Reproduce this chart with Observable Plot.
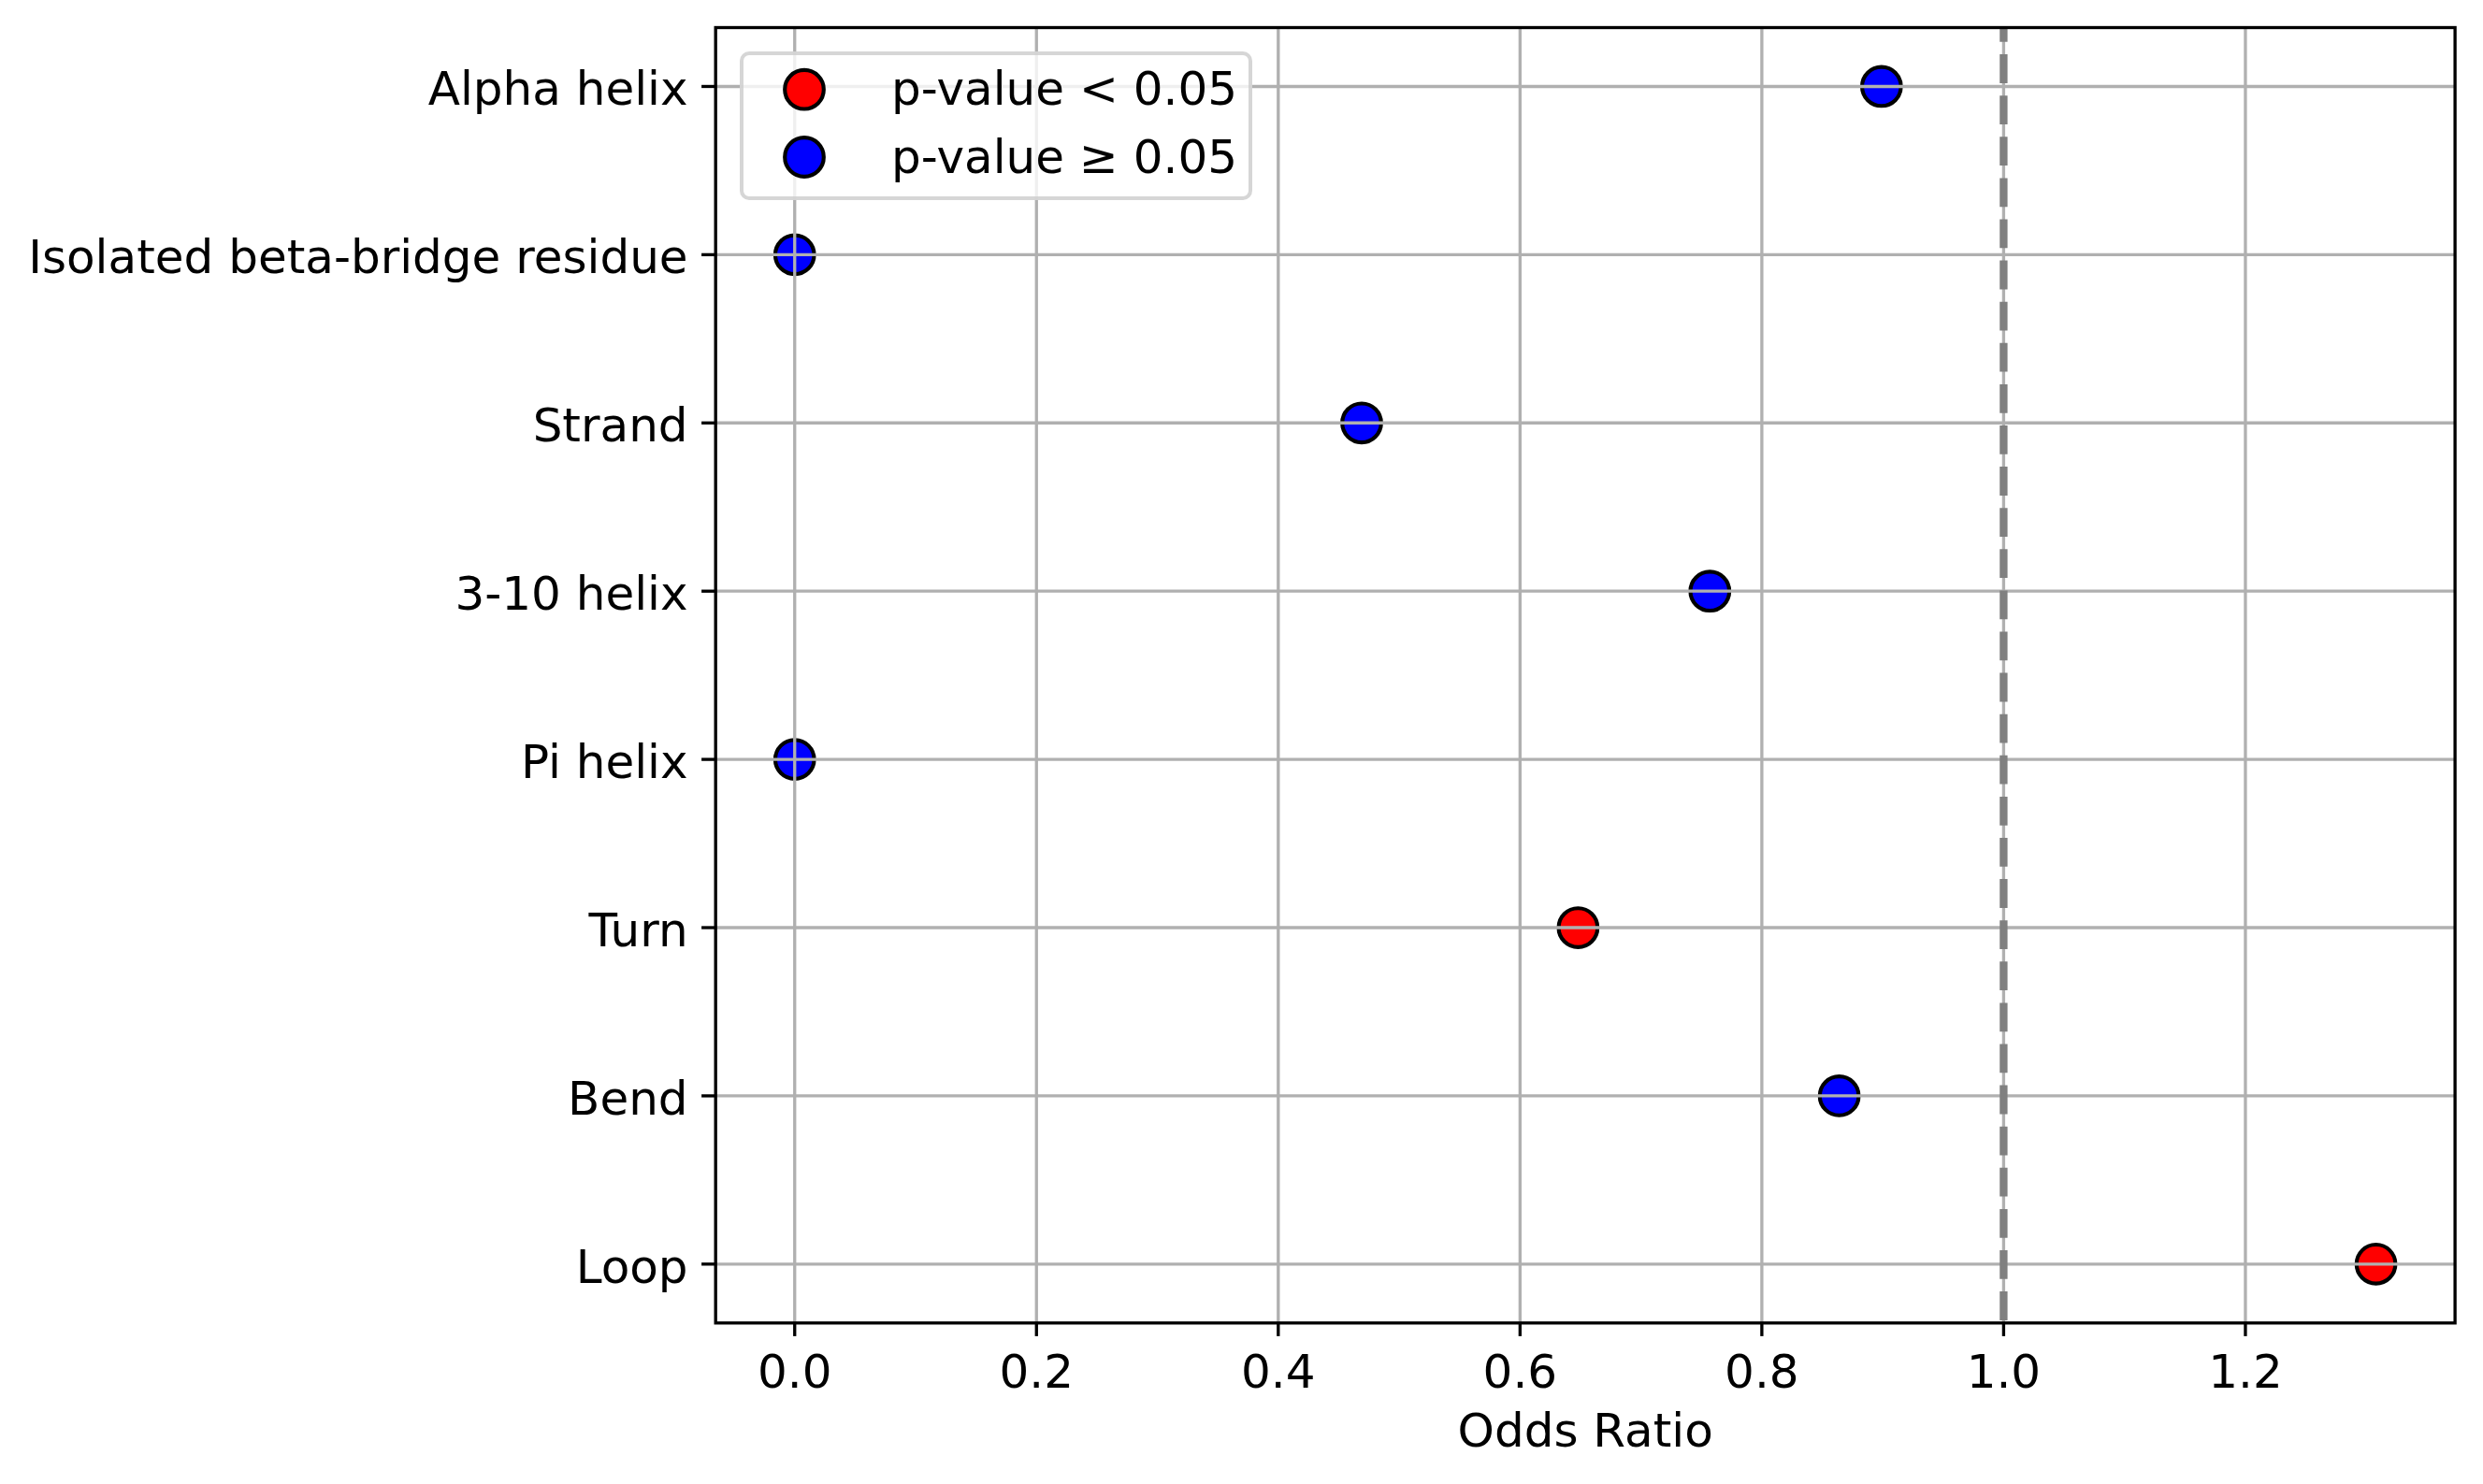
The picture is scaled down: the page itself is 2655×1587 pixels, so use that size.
<!DOCTYPE html>
<html>
<head>
<meta charset="utf-8">
<script src="https://cdn.jsdelivr.net/npm/d3@7"></script>
<script src="https://cdn.jsdelivr.net/npm/@observablehq/plot@0.6"></script>
<style>
  html, body { margin: 0; padding: 0; background: white; overflow: hidden; }
  #wrap { position: relative; width: 2655px; height: 1587px; }
  #legend { position: absolute; left: 791px; top: 55px; width: 540px; height: 151px;
    border: 4px solid rgba(204,204,204,0.8); border-radius: 10px; background: rgba(255,255,255,0.8);
    font-family: "DejaVu Sans", sans-serif; font-size: 50px; color: black; }
  #legend svg { position: absolute; left: 0; top: 0; }
</style>
</head>
<body>
<div id="wrap"></div>
<script>
const categories = ["Alpha helix", "Isolated beta-bridge residue", "Strand", "3-10 helix", "Pi helix", "Turn", "Bend", "Loop"];
const oddsRatios = [0.899, 0.0, 0.469, 0.757, 0.0, 0.648, 0.864, 1.308];
const significant = [false, false, false, false, false, true, false, true];
const xTicks = [0.0, 0.2, 0.4, 0.6, 0.8, 1.0, 1.2];
const referenceLine = [1.0];
const legendLabels = ["p-value < 0.05", "p-value \u2265 0.05"];
const legendColors = ["red", "blue"];

const data = categories.map((c, i) => ({category: c, or: oddsRatios[i], sig: significant[i]}));

const W = 2655, H = 1587;
const chart = Plot.plot({
  width: W,
  height: H,
  marginLeft: 764.7,
  marginRight: 30.4,
  marginTop: 29,
  marginBottom: 172.7,
  style: {fontFamily: "DejaVu Sans, sans-serif", fontSize: "50px", background: "white", color: "black", overflow: "visible"},
  x: {domain: [-0.0654, 1.3734], label: null},
  y: {type: "point", domain: categories, padding: 0.35, round: false, label: null},
  marks: [
    Plot.dot(data, {x: "or", y: "category", r: 20.8, fill: d => d.sig ? "red" : "blue", stroke: "black", strokeWidth: 4.17}),
    Plot.gridX(xTicks, {stroke: "#b0b0b0", strokeOpacity: 1, strokeWidth: 3.33}),
    Plot.gridY(categories, {stroke: "#b0b0b0", strokeOpacity: 1, strokeWidth: 3.33}),
    Plot.ruleX(referenceLine, {stroke: "gray", strokeWidth: 8.33, strokeDasharray: "30.8,13.3", strokeDashoffset: 15}),
    Plot.axisX({ticks: xTicks, tickFormat: d3.format(".1f"), tickSize: 14.6, tickPadding: 19, strokeWidth: 3.33, label: null, fontSize: 50}),
    Plot.text(["Odds Ratio"], {frameAnchor: "bottom", lineAnchor: "bottom", dy: 132, fontSize: 50, fill: "black"}),
    Plot.axisY({tickSize: 14.6, strokeWidth: 3.33, fill: "none", stroke: "black", label: null}),
    Plot.axisY({tickSize: 14.6, tickPadding: 15, stroke: "none", fill: "black", dy: 4, label: null, fontSize: 50}),
    Plot.frame({stroke: "black", strokeWidth: 3.33})
  ]
});
const wrap = document.getElementById("wrap");
wrap.appendChild(chart);

// Legend overlay (upper-left inside axes)
const legend = document.createElement("div");
legend.id = "legend";
wrap.appendChild(legend);
const lsvg = d3.select(legend).append("svg").attr("width", 540).attr("height", 151)
  .style("font-family", "DejaVu Sans, sans-serif").style("font-size", "50px");
const rowY = [36.7, 109];
legendLabels.forEach((lab, i) => {
  lsvg.append("circle").attr("cx", 65).attr("cy", rowY[i]).attr("r", 20.8)
    .attr("fill", legendColors[i]).attr("stroke", "black").attr("stroke-width", 4.17);
  lsvg.append("text").attr("x", 158).attr("y", rowY[i] + 16.5).attr("fill", "black").text(lab);
});
</script>
</body>
</html>
